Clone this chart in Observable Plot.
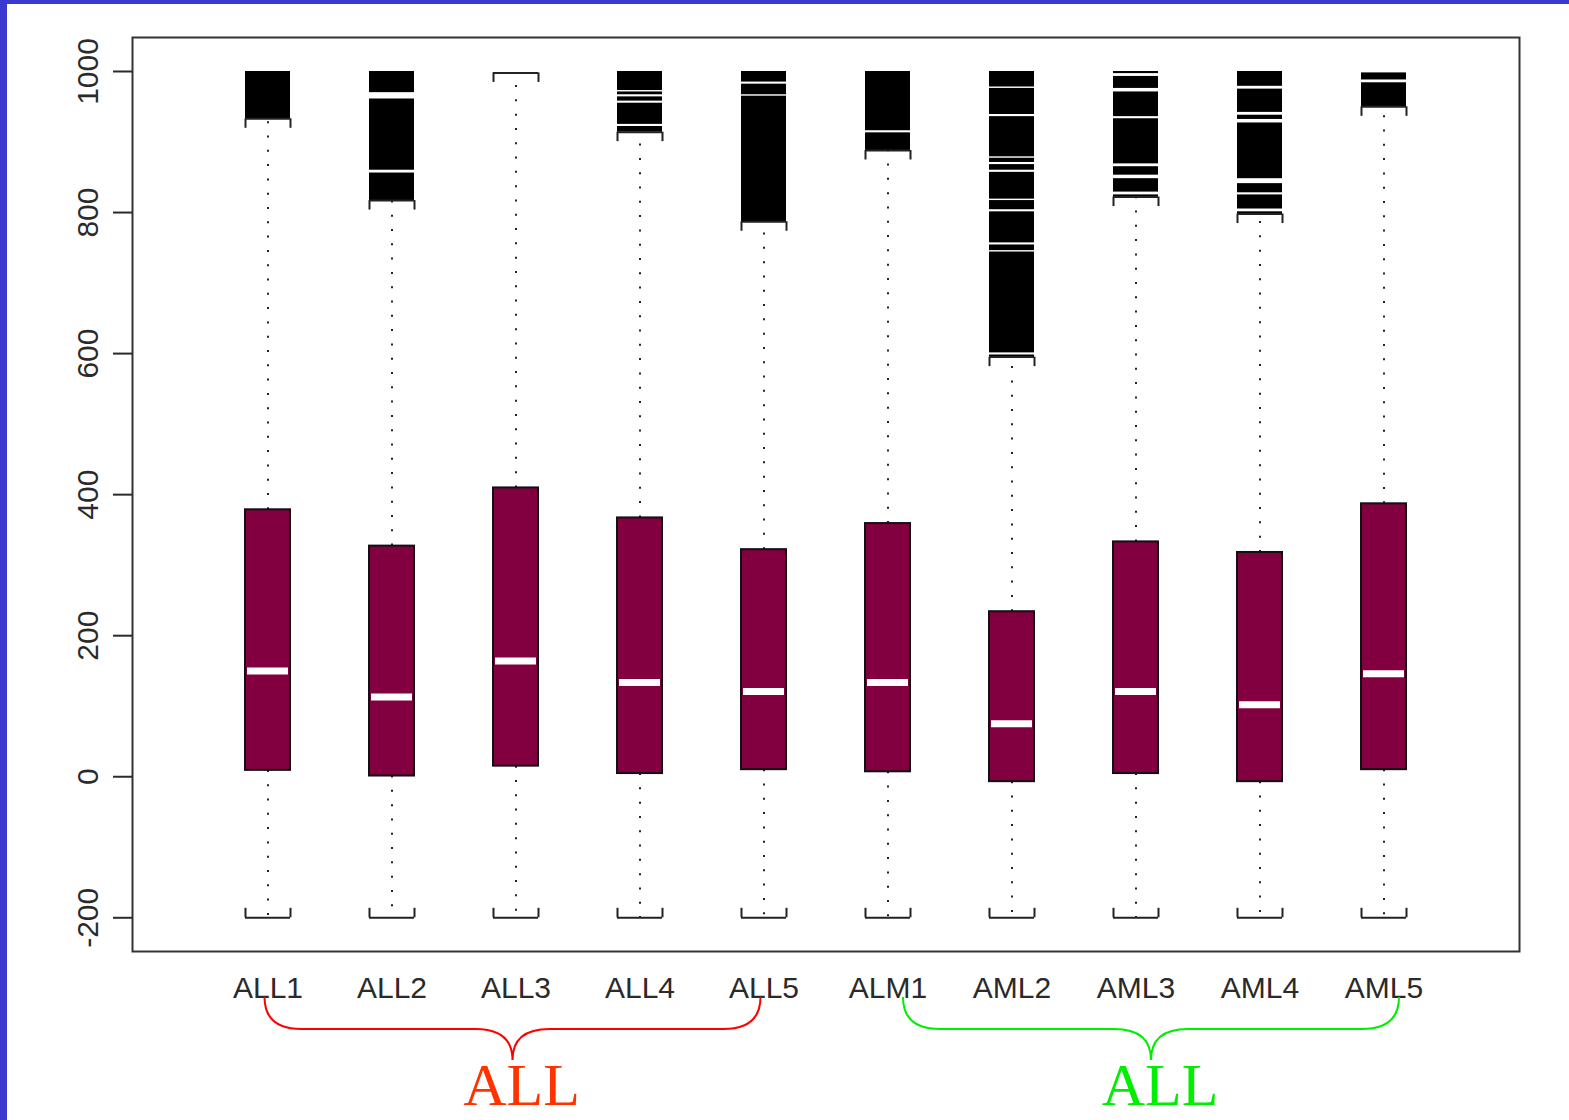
<!DOCTYPE html>
<html><head><meta charset="utf-8">
<script src="https://cdn.jsdelivr.net/npm/d3@7"></script>
<script src="https://cdn.jsdelivr.net/npm/@observablehq/plot@0.6"></script>
<style>
html,body{margin:0;padding:0;background:#fff;}
#wrap{position:relative;width:1569px;height:1120px;overflow:hidden;background:#fff;}
#wrap svg{position:absolute;left:0;top:0;}
.bl{position:absolute;left:0;top:0;width:7px;height:1120px;background:#3b38cf;}
.bt{position:absolute;left:0;top:0;width:1569px;height:4px;background:#3b38cf;}
</style></head><body><div id="wrap"><div class="bl"></div><div class="bt"></div></div>
<script>
// ---- data ----
const samples = ["ALL1","ALL2","ALL3","ALL4","ALL5","ALM1","AML2","AML3","AML4","AML5"];
const q1 = [9, 1, 15, 4.5, 10, 7, -7, 4.5, -7, 10];
const median = [150, 113, 164, 133.5, 121, 133.5, 75, 121, 102, 146];
const q3 = [378.5, 327, 409.5, 367, 322, 359, 234, 333, 318, 387];
const upperWhisker = [933, 817, 998, 914, 787, 888, 595, 822, 798, 950];
const lowerWhisker = [-200, -200, -200, -200, -200, -200, -200, -200, -200, -200];
// dense outliers form solid runs between these values
const outlierRuns = [
  [[933, 1000]],
  [[817, 856], [860, 961], [970, 1000]],
  [],
  [[914, 922], [925, 955], [958, 964], [967, 971], [973, 1000]],
  [[787, 965], [967, 982], [985, 1000]],
  [[888, 913], [916, 1000]],
  [[595, 598], [601, 744], [746, 754], [757, 801], [804, 817], [819, 857], [860, 868], [871, 877], [879, 936], [939, 976], [978, 1000]],
  [[822, 825], [829, 848], [853, 865], [869, 933], [936, 971], [976, 993], [997, 1000]],
  [[798, 801], [805, 825], [828, 841], [848, 927], [932, 938], [942, 975], [979, 1000]],
  [[950, 984], [988, 998]]
];
const yTicks = [-200, 0, 200, 400, 600, 800, 1000];
const groupLabels = ["ALL", "ALL"];
const groupFirst = ["ALL1", "ALM1"];
const groupLast = ["ALL5", "AML5"];

// ---- build ----
const stats = samples.map((name, i) => ({name, q1: q1[i], median: median[i], q3: q3[i], hi: upperWhisker[i], lo: lowerWhisker[i]}));
const runs = samples.flatMap((name, i) => outlierRuns[i].map(([a, b]) => ({name, a, b})));
const capLeg = 13.5;
const half = 22.5;
const ink = "#222";

const plot = Plot.plot({
  width: 1569, height: 1120,
  marginLeft: 132, marginRight: 50, marginTop: 37, marginBottom: 169,
  style: {fontFamily: "'Liberation Sans', Arial, sans-serif", background: "transparent", overflow: "visible"},
  x: {type: "band", domain: samples, paddingInner: 0.638, paddingOuter: 0.892},
  y: {domain: [-247.8, 1048.2]},
  marks: [
    Plot.ruleX(stats, {x: "name", y1: "q3", y2: "hi", stroke: ink, strokeWidth: 2, strokeDasharray: "2,12.3"}),
    Plot.ruleX(stats, {x: "name", y1: "q1", y2: "lo", stroke: ink, strokeWidth: 2, strokeDasharray: "2,12.3"}),
    Plot.barY(runs, {x: "name", y1: "a", y2: "b", fill: "#000"}),
    Plot.barY(stats, {x: "name", y1: "q1", y2: "q3", fill: "#820040", stroke: "#111", strokeWidth: 2}),
    Plot.tickY(stats, {x: "name", y: "median", stroke: "#fff", strokeWidth: 7, insetLeft: 2, insetRight: 2}),
    Plot.tickY(stats, {x: "name", y: "hi", stroke: ink, strokeWidth: 2}),
    Plot.ruleX(stats, {x: "name", y1: "hi", y2: d => d.hi - capLeg, dx: -half, stroke: ink, strokeWidth: 2}),
    Plot.ruleX(stats, {x: "name", y1: "hi", y2: d => d.hi - capLeg, dx: half, stroke: ink, strokeWidth: 2}),
    Plot.tickY(stats, {x: "name", y: "lo", stroke: ink, strokeWidth: 2}),
    Plot.ruleX(stats, {x: "name", y1: "lo", y2: d => d.lo + capLeg, dx: -half, stroke: ink, strokeWidth: 2}),
    Plot.ruleX(stats, {x: "name", y1: "lo", y2: d => d.lo + capLeg, dx: half, stroke: ink, strokeWidth: 2}),
    Plot.frame({stroke: "#333", strokeWidth: 2}),
    Plot.axisY({ticks: yTicks, tickFormat: d => String(d), tickSize: 19, tickRotate: -90, tickPadding: 25, textAnchor: "middle", lineAnchor: "middle", fontSize: 30, color: "#2a2a2a", strokeWidth: 2, label: null}),
    Plot.axisX({tickSize: 0, tickPadding: 25, fontSize: 30, color: "#2a2a2a", label: null})
  ]
});
document.getElementById("wrap").prepend(plot);

// ---- group braces below the axis ----
const xs = plot.scale("x");
const ys = plot.scale("y");
const cx = n => xs.apply(n) + xs.bandwidth / 2;
const bottom = ys.apply(ys.domain[0]);
const braceColors = ["#ff0000", "#00ee00"];
const textColors = ["#ff3300", "#00ee00"];
const braceShift = [-3, 15.5];
const svg = d3.select(plot);
groupLabels.forEach((lab, g) => {
  const x0 = cx(groupFirst[g]) + braceShift[g];
  const x1 = cx(groupLast[g]) + braceShift[g];
  const tip = (x0 + x1) / 2;
  const yTop = bottom + 46, yMid = bottom + 78, yTip = bottom + 109, r = 37;
  const p = `M${x0},${yTop} Q${x0},${yMid} ${x0 + r},${yMid} L${tip - r},${yMid} Q${tip},${yMid} ${tip},${yTip} Q${tip},${yMid} ${tip + r},${yMid} L${x1 - r},${yMid} Q${x1},${yMid} ${x1},${yTop}`;
  svg.append("path").attr("d", p).attr("fill", "none").attr("stroke", braceColors[g]).attr("stroke-width", 2);
  svg.append("text").attr("x", tip + 9).attr("y", bottom + 154).attr("text-anchor", "middle")
    .attr("font-family", "'Liberation Serif', 'Times New Roman', serif").attr("font-size", 60)
    .attr("fill", textColors[g]).text(lab);
});
</script></body></html>
